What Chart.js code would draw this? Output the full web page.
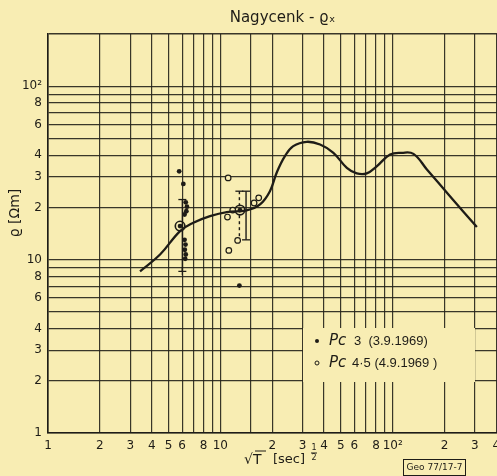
<!DOCTYPE html>
<html>
<head>
<meta charset="utf-8">
<script src="https://cdn.jsdelivr.net/npm/chart.js@4.4.1/dist/chart.umd.min.js"></script>
<style>
  html, body { margin: 0; padding: 0; background: #f8edb3; overflow: hidden; }
  #wrap { width: 600px; height: 476px; }
</style>
</head>
<body>
<div id="wrap"><canvas id="chart" width="600" height="476"></canvas></div>
<script>
// ── data (sqrt(T) in sec^1/2, rho in ohm-m)
const curveX = [3.42, 4.47, 5.84, 6.97, 8.71, 10.9, 14.2, 17.0, 19.4, 21.2, 23.7, 26.5, 31.7, 37.9, 45.3, 54.2, 61.9, 70.7, 80.8, 96.6, 113, 132, 158, 215, 308];
const curveY = [8.56, 10.7, 14.6, 16.3, 17.8, 18.8, 19.2, 20.8, 24.8, 31.6, 39.5, 45.1, 47.8, 46.1, 41.3, 33.8, 31.4, 31.4, 34.5, 40.4, 41.3, 40.7, 33.1, 23.2, 15.4];

const pc3X = [5.77, 6.10, 6.30, 6.40, 6.35, 6.20, 5.84, 6.20, 6.28, 6.22, 6.30, 6.25, 13.0, 12.9];
const pc3Y = [32.3, 27.3, 21.4, 20.2, 19.0, 18.2, 15.6, 13.0, 12.2, 11.4, 10.7, 10.1, 19.3, 7.08];

const pc45X = [11.1, 11.0, 11.8, 12.6, 11.2, 15.7, 16.7];
const pc45Y = [29.6, 17.6, 19.3, 12.9, 11.3, 21.2, 22.7];

const ringX = [5.84, 13.0];
const ringY = [15.6, 19.3];

const barX = [6.02, 12.9, 14.1];
const barHi = [22.2, 24.8, 24.8];
const barLo = [8.56, 13.0, 13.0];
const barDashed = [false, true, false];
const barLoStyle = ["cross", false, "line"];

const xTickVals = [1, 2, 3, 4, 5, 6, 7, 8, 9, 10, 15, 20, 30, 40, 50, 60, 70, 80, 90, 100, 200, 300, 400, 500, 600, 700, 800, 900, 1000];
const xLabelVals = [1, 2, 3, 4, 5, 6, 8, 10, 20, 30, 40, 50, 60, 80, 100, 200, 300, 400];
const xLabelText = ["1", "2", "3", "4", "5", "6", "8", "10", "2", "3", "4", "5", "6", "8", "10²", "2", "3", "4"];

const yTickVals = [1, 2, 3, 4, 5, 6, 7, 8, 9, 10, 20, 30, 40, 50, 60, 70, 80, 90, 100, 200];
const yLabelVals = [1, 2, 3, 4, 6, 8, 10, 20, 30, 40, 60, 80, 100];
const yLabelText = ["1", "2", "3", "4", "6", "8", "10", "2", "3", "4", "6", "8", "10²"];

const PAPER = "#f8edb3";
const INK = "#1e1c17";
const GRID = "rgba(35,33,26,0.9)";

Chart.defaults.font.family = "'DejaVu Sans', sans-serif";
Chart.defaults.color = INK;

const pts = (xs, ys) => xs.map((x, i) => ({ x, y: ys[i] }));

const datasets = [
  {
    data: pts(curveX, curveY),
    showLine: true,
    borderColor: INK,
    borderWidth: 2.3,
    tension: 0.4,
    pointRadius: 0,
  },
  {
    data: pts(pc3X, pc3Y),
    pointRadius: 2.4,
    pointBackgroundColor: INK,
    pointBorderWidth: 0,
  },
  {
    data: pts(pc45X, pc45Y),
    pointRadius: 2.8,
    pointBackgroundColor: PAPER,
    pointBorderColor: INK,
    pointBorderWidth: 1.2,
  },
  {
    data: pts(ringX, ringY),
    pointRadius: 4.8,
    pointBackgroundColor: "rgba(0,0,0,0)",
    pointBorderColor: INK,
    pointBorderWidth: 1.6,
  },
];

barX.forEach((x, i) => {
  datasets.push({
    data: [{ x, y: barHi[i] }, { x, y: barLo[i] }],
    showLine: true,
    borderColor: INK,
    borderWidth: 1.4,
    borderDash: barDashed[i] ? [3, 3] : [],
    pointStyle: ["line", barLoStyle[i] || "line"],
    pointRadius: [4, barLoStyle[i] ? 4 : 0],
    pointBorderColor: INK,
    pointBorderWidth: 1.3,
  });
});

// ── legend box, axis titles and stamp
const decor = {
  id: "decor",
  beforeDraw(chart) {
    const ctx = chart.ctx;
    ctx.save();
    ctx.fillStyle = PAPER;
    ctx.fillRect(0, 0, chart.width, chart.height);
    ctx.restore();
  },
  beforeDatasetsDraw(chart) {
    const ctx = chart.ctx;
    ctx.save();
    ctx.fillStyle = PAPER;
    ctx.fillRect(303, 328, 172, 54);
    ctx.fillStyle = INK;
    ctx.strokeStyle = INK;
    ctx.textBaseline = "middle";
    // row 1
    ctx.beginPath();
    ctx.arc(317, 341, 2, 0, Math.PI * 2);
    ctx.fill();
    ctx.font = "italic 15px 'DejaVu Sans'";
    ctx.fillText("Pc", 329, 341);
    ctx.font = "13px 'Liberation Sans'";
    ctx.fillText("3  (3.9.1969)", 354, 341);
    // row 2
    ctx.lineWidth = 1;
    ctx.beginPath();
    ctx.arc(317, 363, 2, 0, Math.PI * 2);
    ctx.stroke();
    ctx.font = "italic 15px 'DejaVu Sans'";
    ctx.fillText("Pc", 329, 363);
    ctx.font = "13px 'Liberation Sans'";
    ctx.fillText("4·5 (4.9.1969 )", 352, 363);
    ctx.restore();
  },
  afterDraw(chart) {
    const ctx = chart.ctx;
    ctx.save();
    ctx.fillStyle = INK;
    ctx.strokeStyle = INK;
    // y title
    ctx.translate(15, 213);
    ctx.rotate(-Math.PI / 2);
    ctx.textAlign = "center";
    ctx.textBaseline = "middle";
    ctx.font = "14px 'DejaVu Sans'";
    ctx.fillText("ϱ [Ωm]", 0, 0);
    ctx.setTransform(1, 0, 0, 1, 0, 0);
    // x title
    ctx.textAlign = "left";
    ctx.font = "14px 'DejaVu Sans'";
    ctx.fillText("√T", 244, 460);
    ctx.lineWidth = 1;
    ctx.beginPath();
    ctx.moveTo(255, 451);
    ctx.lineTo(266, 451);
    ctx.stroke();
    ctx.font = "13px 'DejaVu Sans'";
    ctx.fillText("[sec]", 273, 460);
    ctx.font = "8px 'DejaVu Sans'";
    ctx.textAlign = "center";
    ctx.fillText("1", 314, 448);
    ctx.fillText("2", 314, 458);
    ctx.beginPath();
    ctx.moveTo(311, 453);
    ctx.lineTo(317, 453);
    ctx.stroke();
    // stamp
    ctx.strokeRect(403.5, 459.5, 62, 16);
    ctx.font = "9px 'DejaVu Sans'";
    ctx.fillText("Geo 77/17-7", 434.5, 468);
    ctx.restore();
  },
};

new Chart(document.getElementById("chart"), {
  type: "scatter",
  data: { datasets },
  plugins: [decor],
  options: {
    responsive: false,
    animation: false,
    layout: { padding: { left: 0, right: 35, top: 0, bottom: 0 } },
    plugins: {
      legend: { display: false },
      tooltip: { enabled: false },
      title: {
        display: true,
        text: "Nagycenk - ϱₓ",
        color: INK,
        font: { size: 15, weight: "normal" },
        padding: { top: 9, bottom: 7 },
      },
    },
    scales: {
      x: {
        type: "logarithmic",
        min: 1,
        max: 1000,
        afterFit: (s) => { s.height = 43; },
        afterBuildTicks: (s) => { s.ticks = xTickVals.map((v) => ({ value: v })); },
        ticks: {
          autoSkip: false,
          maxRotation: 0,
          padding: 6,
          font: { size: 12 },
          callback: (v) => {
            const i = xLabelVals.indexOf(v);
            return i >= 0 ? xLabelText[i] : "";
          },
        },
        grid: { color: GRID, lineWidth: 1.2, drawTicks: false },
        border: { color: INK, width: 1.6 },
      },
      y: {
        type: "logarithmic",
        min: 1,
        max: 200,
        afterFit: (s) => { s.width = 48; },
        afterBuildTicks: (s) => { s.ticks = yTickVals.map((v) => ({ value: v })); },
        ticks: {
          autoSkip: false,
          padding: 6,
          font: { size: 12 },
          callback: (v) => {
            const i = yLabelVals.indexOf(v);
            return i >= 0 ? yLabelText[i] : "";
          },
        },
        grid: {
          color: GRID,
          lineWidth: (c) => (c.tick && c.tick.value === 200 ? 1.6 : 1.2),
          drawTicks: false,
        },
        border: { color: INK, width: 1.6 },
      },
    },
  },
});
</script>
</body>
</html>
